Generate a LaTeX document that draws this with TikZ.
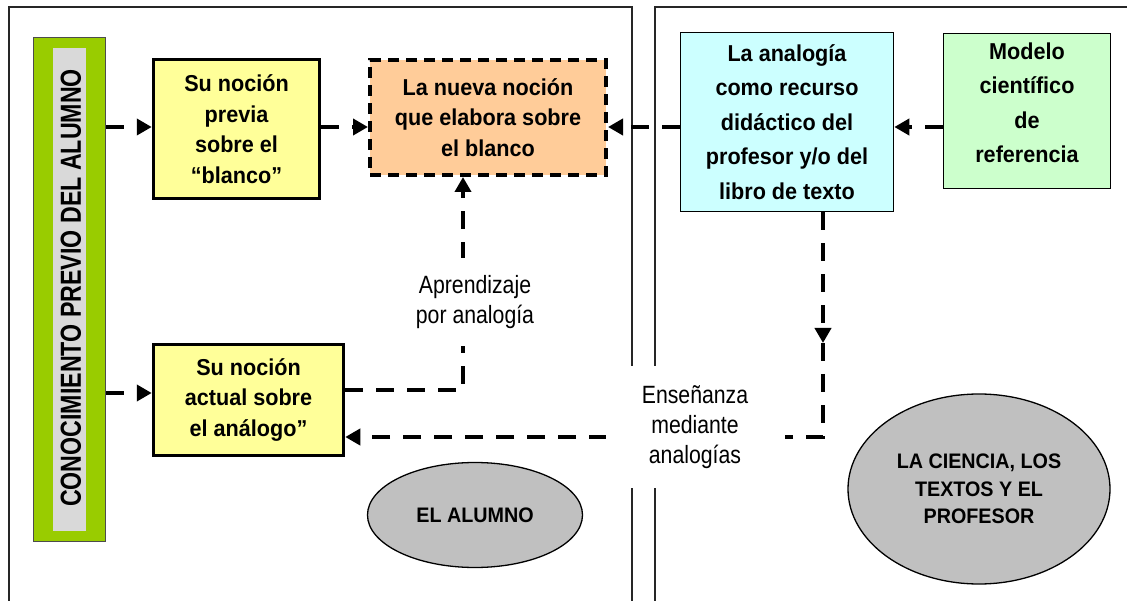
\documentclass[tikz,border=0pt]{standalone}
\usepackage{fontspec}
\setmainfont{Liberation Sans}
\newfontfamily\bfont{Liberation Sans}[FakeStretch=0.94]
\newfontfamily\vfont{Liberation Sans}[FakeStretch=0.8]
\newfontfamily\lfont{Liberation Sans}[FakeStretch=0.85]
\usetikzlibrary{shapes.geometric,arrows.meta}
\definecolor{yel}{HTML}{FFFF99}
\definecolor{peach}{HTML}{FFCC99}
\definecolor{cyanbox}{HTML}{CCFFFF}
\definecolor{greenbox}{HTML}{CCFFCC}
\definecolor{bargreen}{HTML}{99CC00}
\definecolor{stripgray}{HTML}{D9D9D9}
\definecolor{ellgray}{HTML}{C0C0C0}
\begin{document}
\begin{tikzpicture}[x=1pt,y=-1pt,
  btxt/.style={font=\bfont\bfseries\fontsize{23}{30.5}\selectfont, align=center},
  btxtwide/.style={font=\bfont\bfseries\fontsize{23}{34.5}\selectfont, align=center},
  ybox/.style={draw, line width=3.5pt, fill=yel, inner sep=0pt, btxt},
  pbox/.style={draw, line width=4pt, dash pattern=on 11pt off 7pt, fill=peach, inner sep=0pt, btxt},
  thinbox/.style={draw, line width=1.6pt, inner sep=0pt},
  ell/.style={ellipse, draw, line width=1.3pt, fill=ellgray, inner sep=0pt, align=center},
  lab/.style={font=\lfont\fontsize{25}{30}\selectfont, align=center, fill=white, inner sep=0pt},
  dline/.style={line width=4pt, dash pattern=on 18pt off 13pt},
  arr/.style={dline, -{Triangle[length=15pt,width=16pt]}},
  frame/.style={line width=1.5pt, black!85}
]
\useasboundingbox (0,0) rectangle (1127,601);
\clip (0,0) rectangle (1127,601);

% frames
\draw[frame] (9,615) -- (9,7) -- (632,7) -- (632,615);
\draw[frame] (655,615) -- (655,7) -- (1140,7);

% left bar
\node[draw=black!70, line width=1.2pt, fill=bargreen, minimum width=72pt, minimum height=504pt, inner sep=0pt, anchor=north west] (bar) at (33,37) {};
\node[fill=stripgray, minimum width=33pt, minimum height=483pt, inner sep=0pt, anchor=north west] (strip) at (53,48) {};
\node[rotate=90, inner sep=0pt, font=\vfont\bfseries\fontsize{29}{30}\selectfont] (vtext) at (71,288) {CONOCIMIENTO PREVIO DEL ALUMNO};

% boxes
\node[ybox, minimum width=166pt, minimum height=139pt] (b1) at (236.5,129) {Su noción\\previa\\sobre el\\“blanco”};
\node[pbox, minimum width=236pt, minimum height=115pt] (b2) at (488,117.5) {La nueva noción\\que elabora sobre\\el blanco};
\node[thinbox, fill=cyanbox, btxtwide, minimum width=213pt, minimum height=179pt] (cyan) at (787,122) {La analogía\\como recurso\\didáctico del\\profesor y/o del\\libro de texto};
\node[thinbox, fill=greenbox, minimum width=167pt, minimum height=155pt] (model) at (1027,111) {};
\node[btxtwide, inner sep=0pt] (modeltxt) at (1027,103) {Modelo\\científico\\de\\referencia};
\node[ybox, minimum width=190pt, minimum height=111pt] (b4) at (248.5,400) {Su noción\\actual sobre\\el análogo”};

% ellipses
\node[ell, minimum width=215pt, minimum height=105pt, font=\bfont\bfseries\fontsize{21}{27}\selectfont] (alumno) at (475,515) {EL ALUMNO};
\node[ell, minimum width=262pt, minimum height=190pt, font=\bfont\bfseries\fontsize{21}{27.5}\selectfont] (ciencia) at (979,489) {LA CIENCIA, LOS\\TEXTOS Y EL\\PROFESOR};

% connector coordinates
\coordinate (r1) at (0,127);
\coordinate (r5) at (0,393);
\coordinate (k6) at (463,390);
\coordinate (k7a) at (823,343);
\coordinate (k7b) at (823,437);

% arrows
\draw[arr] (bar.east |- r1) -- (b1.west |- r1);
\draw[arr] (b1.east |- r1) -- (b2.west |- r1);
\draw[arr] (cyan.west |- r1) -- (b2.east |- r1);
\draw[arr] (model.west |- r1) -- (cyan.east |- r1);
\draw[arr] (bar.east |- r5) -- (b4.west |- r5);
\draw[arr] (b4.east |- k6) -- (k6) -- (k6 |- b2.south);
\draw[arr] (k7a |- cyan.south) -- (k7a);
\draw[arr] (k7a) -- (k7b) -- (k7b -| b4.east);

% labels
\node[lab, minimum width=100pt, minimum height=88pt] (apr) at (475,302) {Aprendizaje\\por analogía};
\node[lab, minimum width=179pt, minimum height=121pt] (ens) at (695,427) {Enseñanza\\mediante\\analogías};
\end{tikzpicture}
\end{document}
